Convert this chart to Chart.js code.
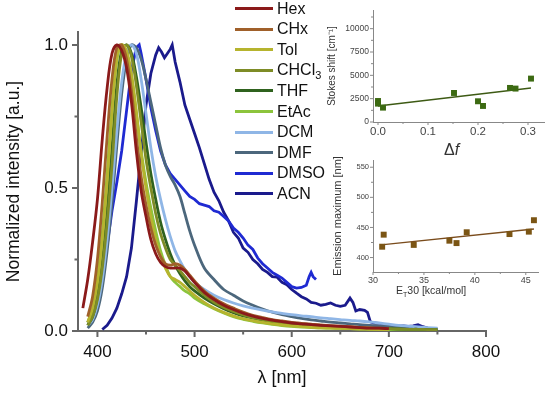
<!DOCTYPE html>
<html>
<head>
<meta charset="utf-8">
<script src="https://cdn.jsdelivr.net/npm/chart.js"></script>
<style>
  body { margin: 0; background: #fff; font-family: "Liberation Sans", Arial, sans-serif; }
  #wrap { position: relative; width: 550px; height: 396px; overflow: hidden; }
  canvas { position: absolute; }
  #main { left: 0; top: 0; }
  #inset1 { left: 300px; top: 0; }
  #inset2 { left: 300px; top: 150px; }
  .row { position: absolute; left: 235px; height: 20px; white-space: nowrap; font-size: 16px; color: #111; }
  .row i { position: absolute; left: 0; width: 38px; height: 3px; }
  .row span { position: absolute; left: 42px; line-height: 18px; }
  .lbl { position: absolute; color: #333; white-space: nowrap; }
</style>
</head>
<body>
<div id="wrap">
  <canvas id="main" width="550" height="396"></canvas>
  <canvas id="inset1" width="250" height="160"></canvas>
  <canvas id="inset2" width="250" height="160"></canvas>
  <div id="legend"></div>
  <div class="lbl" style="left:444px;top:141px;font-size:16px;">&Delta;<i>f</i></div>
  <div class="lbl" style="left:396px;top:284px;font-size:10.5px;">E<sub style="font-size:7px">T</sub>30 [kcal/mol]</div>
</div>
<script>
// wavelength grid (nm) shared by most spectra
const wavelengths = [385,390,395,400,405,410,415,420,425,430,435,440,445,450,455,460,465,470,475,480,485,490,495,500,
  510,520,530,540,550,560,570,580,590,600,610,620,630,640,650,660,670,680,690,700,710,720,730,740,750];

const hex = [0.08,0.18,0.31,0.46,0.67,0.85,0.97,1.0,0.98,0.92,0.80,0.63,0.49,0.40,0.32,0.27,0.24,0.225,0.22,0.22,0.22,0.21,0.19,0.17,
  0.135,0.11,0.09,0.075,0.062,0.052,0.044,0.038,0.033,0.028,0.025,0.022,0.02,0.018,0.016,0.014,0.012,0.01,0.01,0.008,null,null,null,null,null];
const chx = [null,0.05,0.12,0.25,0.45,0.68,0.88,0.99,1.0,0.95,0.84,0.68,0.54,0.44,0.36,0.30,0.26,0.235,0.23,0.235,0.23,0.215,0.195,0.175,
  0.14,0.115,0.095,0.08,0.066,0.055,0.047,0.04,0.035,0.03,0.027,0.024,0.021,0.019,0.017,0.015,0.013,0.011,0.01,0.009,null,null,null,null,null];
const tol = [null,0.03,0.08,0.17,0.32,0.52,0.76,0.95,1.0,0.98,0.90,0.77,0.62,0.50,0.40,0.32,0.26,0.22,0.19,0.18,0.17,0.155,0.14,0.125,
  0.10,0.08,0.065,0.053,0.043,0.036,0.03,0.025,0.021,0.018,0.015,0.013,0.011,0.01,0.009,0.008,0.007,0.006,0.005,0.005,null,null,null,null,null];
const chcl3 = [null,0.02,0.05,0.11,0.22,0.38,0.58,0.82,0.97,1.0,0.96,0.86,0.73,0.60,0.50,0.41,0.34,0.29,0.25,0.23,0.21,0.19,0.17,0.155,
  0.125,0.10,0.082,0.068,0.056,0.047,0.04,0.034,0.029,0.025,0.022,0.019,0.017,0.015,0.013,0.012,0.011,0.01,0.009,0.008,0.007,0.006,0.006,0.005,0.005];
const thf = [null,0.02,0.05,0.12,0.24,0.42,0.64,0.86,0.98,1.0,0.97,0.89,0.78,0.66,0.55,0.46,0.38,0.32,0.27,0.23,0.20,0.175,0.155,0.14,
  0.115,0.095,0.078,0.064,0.053,0.045,0.038,0.032,0.028,0.024,0.021,0.018,0.016,0.014,0.013,0.012,0.011,0.01,0.009,0.008,0.007,0.006,0.006,0.005,0.005];
const etac = [null,0.03,0.08,0.18,0.34,0.55,0.78,0.95,1.0,0.97,0.89,0.76,0.63,0.52,0.43,0.35,0.28,0.23,0.19,0.17,0.155,0.14,0.13,0.115,
  0.095,0.078,0.063,0.05,0.041,0.034,0.028,0.023,0.019,0.016,0.014,0.012,0.011,0.01,0.009,0.008,0.007,0.006,0.005,0.005,0.004,0.004,0.004,0.003,0.003];
const dcm = [null,0.02,0.04,0.09,0.18,0.32,0.50,0.70,0.87,0.97,1.0,0.97,0.88,0.76,0.64,0.54,0.46,0.39,0.33,0.28,0.245,0.215,0.19,0.17,
  0.145,0.125,0.11,0.098,0.088,0.08,0.073,0.067,0.062,0.057,0.053,0.05,0.046,0.043,0.04,0.037,0.035,0.032,0.028,0.024,0.02,0.017,0.014,0.012,0.01];
const dmf = [null,0.01,0.03,0.07,0.15,0.28,0.45,0.65,0.83,0.95,1.0,0.99,0.95,0.88,0.80,0.72,0.64,0.58,0.54,0.51,0.47,0.41,0.35,0.30,
  0.22,0.18,0.145,0.125,0.105,0.09,0.077,0.066,0.057,0.05,0.044,0.039,0.035,0.031,0.028,0.025,0.022,0.02,0.018,0.016,0.014,0.012,0.01,0.009,0.008];

// noisier spectra with their own wavelength points
const dmsoWl = [390,395,400,405,410,415,420,425,430,435,440,443,445,450,455,460,465,470,475,480,485,490,495,
  500,505,510,515,520,525,530,535,540,545,550,555,560,565,570,575,580,585,590,595,600,605,610,615,618,620,622,625];
const dmso = [0.03,0.06,0.12,0.2,0.3,0.42,0.52,0.63,0.77,0.91,0.99,1.0,0.97,0.88,0.78,0.70,0.63,0.58,0.55,0.53,0.51,0.49,0.47,
  0.46,0.445,0.44,0.435,0.42,0.415,0.40,0.385,0.36,0.345,0.325,0.30,0.285,0.255,0.235,0.22,0.205,0.195,0.185,0.17,0.155,0.15,0.152,0.16,0.19,0.205,0.19,0.18];
const acnWl = [405,410,415,420,425,430,435,440,445,450,455,460,463,466,469,472,475,477,480,485,490,495,500,505,510,515,520,525,
  530,535,540,545,550,555,560,565,570,575,580,585,590,595,600,605,610,615,620,625,630,635,640,645,650,655,660,663,666,
  670,675,678,681,685,690,695,700,705,710,715,720,725,730,735,740,745,750];
const acn = [0.005,0.02,0.045,0.08,0.13,0.19,0.29,0.45,0.62,0.79,0.90,0.965,0.99,0.975,0.955,0.97,0.985,1.0,0.94,0.87,0.79,0.74,0.69,0.64,0.585,0.53,0.485,0.455,
  0.415,0.385,0.345,0.325,0.29,0.275,0.25,0.235,0.215,0.205,0.19,0.188,0.17,0.162,0.145,0.132,0.12,0.112,0.10,0.097,0.09,0.093,0.098,0.09,0.086,0.09,0.115,0.10,0.07,
  0.075,0.072,0.065,0.032,0.028,0.027,0.022,0.02,0.018,0.017,0.018,0.016,0.018,0.022,0.015,0.01,0.008,0.005];

const xTicks = [400, 500, 600, 700, 800];
const xMinor = [450, 550, 650, 750];
const yTicks = [0, 0.5, 1.0];
const yMinor = [0.25, 0.75];

// insets
const deltaF = [0.0, 0.0, 0.01, 0.152, 0.2, 0.21, 0.264, 0.275, 0.306];
const stokesShift = [2250, 1970, 1540, 3110, 2220, 1720, 3650, 3580, 4650];
const fitDeltaF = [0.0, 0.306];
const fitStokes = [1720, 3650];
const dfTicks = [0, 0.1, 0.2, 0.3];
const dfMinor = [0.05, 0.15, 0.25];
const ssTicks = [0, 2500, 5000, 7500, 10000];
const ssMinor = [1250, 3750, 6250, 8750, 11250];

const et30 = [30.9, 31.05, 34.0, 37.5, 38.2, 39.2, 43.4, 45.3, 45.8];
const emissionMax = [418, 438, 421, 428, 424, 442, 439, 443, 462];
const fitEt30 = [30.8, 45.8];
const fitEmission = [421, 447.5];
const etTicks = [30, 35, 40, 45];
const etMinor = [32.5, 37.5, 42.5];
const emTicks = [400, 450, 500, 550];
const emMinor = [425, 475, 525];

const series = [
  { name: 'Hex', html: 'Hex', color: '#8B1A1A', x: wavelengths, y: hex },
  { name: 'CHx', html: 'CHx', color: '#A0602A', x: wavelengths, y: chx },
  { name: 'Tol', html: 'Tol', color: '#B6B42E', x: wavelengths, y: tol },
  { name: 'CHCl3', html: 'CHCl<sub style="font-size:11px">3</sub>', color: '#7E8C26', x: wavelengths, y: chcl3 },
  { name: 'THF', html: 'THF', color: '#2F621E', x: wavelengths, y: thf },
  { name: 'EtAc', html: 'EtAc', color: '#8CC43C', x: wavelengths, y: etac },
  { name: 'DCM', html: 'DCM', color: '#8FB6E6', x: wavelengths, y: dcm },
  { name: 'DMF', html: 'DMF', color: '#4C677C', x: wavelengths, y: dmf },
  { name: 'DMSO', html: 'DMSO', color: '#1F2AD2', x: dmsoWl, y: dmso, noisy: true },
  { name: 'ACN', html: 'ACN', color: '#1A1A8C', x: acnWl, y: acn, noisy: true }
];

Chart.defaults.font.family = '"Liberation Sans", Arial, sans-serif';

// legend
const legend = document.getElementById('legend');
series.forEach((s, i) => {
  const c = 8.5 + i * 20.6;
  const row = document.createElement('div');
  row.className = 'row';
  row.style.top = (c - 9) + 'px';
  row.innerHTML = '<i style="top:7.5px;background:' + s.color + '"></i><span>' + s.html + '</span>';
  legend.appendChild(row);
});

// draws outward major/minor tick marks
function tickMarks(spec) {
  return {
    id: 'tickMarks',
    afterDraw(chart) {
      const ctx = chart.ctx;
      for (const id in spec) {
        const s = spec[id], sc = chart.scales[id];
        ctx.save();
        ctx.strokeStyle = s.color;
        ctx.lineWidth = s.width;
        ctx.beginPath();
        [[s.major, s.majorLen], [s.minor, s.minorLen]].forEach(([vals, len]) => {
          vals.forEach(v => {
            const p = sc.getPixelForValue(v);
            if (sc.isHorizontal()) { ctx.moveTo(p, sc.top); ctx.lineTo(p, sc.top + len); }
            else { ctx.moveTo(sc.right, p); ctx.lineTo(sc.right - len, p); }
          });
        });
        ctx.stroke();
        ctx.restore();
      }
    }
  };
}

const noGrid = { display: false, drawTicks: false, tickLength: 0 };

new Chart(document.getElementById('main'), {
  type: 'line',
  data: {
    datasets: series.map(s => ({
      label: s.name,
      data: s.x.map((x, i) => ({ x: x, y: s.y[i] })).filter(p => p.y !== null),
      borderColor: s.color,
      borderWidth: 2.8,
      pointRadius: 0,
      tension: s.noisy ? 0 : 0.35,
      fill: false
    }))
  },
  options: {
    responsive: false,
    animation: false,
    layout: { padding: { top: 32, right: 64, left: 0, bottom: 0 } },
    plugins: { legend: { display: false }, tooltip: { enabled: false } },
    scales: {
      x: {
        type: 'linear', min: 380, max: 800,
        afterFit(s) { s.height = 65; },
        afterBuildTicks(s) { s.ticks = xTicks.map(v => ({ value: v })); },
        grid: noGrid,
        border: { color: '#666', width: 2 },
        ticks: { font: { size: 17 }, color: '#111', padding: 11, maxRotation: 0, autoSkip: false },
        title: { display: true, text: 'λ [nm]', font: { size: 18 }, color: '#111', padding: { top: 0, bottom: 7 } }
      },
      y: {
        type: 'linear', min: 0, max: 1.045,
        afterFit(s) { s.width = 78; },
        afterBuildTicks(s) { s.ticks = yTicks.map(v => ({ value: v })); },
        grid: noGrid,
        border: { color: '#666', width: 2 },
        ticks: { font: { size: 17 }, color: '#111', padding: 10, callback: v => v.toFixed(1) },
        title: { display: true, text: 'Normalized intensity [a.u.]', font: { size: 17.5 }, color: '#111', padding: { top: 4, bottom: 0 } }
      }
    }
  },
  plugins: [tickMarks({
    x: { major: xTicks, minor: xMinor, majorLen: 6, minorLen: 3.5, color: '#666', width: 2 },
    y: { major: yTicks, minor: yMinor, majorLen: 6, minorLen: 3.5, color: '#666', width: 2 }
  })]
});

function inset(canvasId, opts) {
  new Chart(document.getElementById(canvasId), {
    type: 'scatter',
    data: {
      datasets: [
        { data: opts.px.map((x, i) => ({ x: x, y: opts.py[i] })), pointStyle: 'rect', pointRadius: 4.2,
          backgroundColor: opts.pointColor, borderWidth: 0 },
        { data: opts.fx.map((x, i) => ({ x: x, y: opts.fy[i] })), showLine: true, pointRadius: 0,
          borderColor: opts.lineColor, borderWidth: 1.4 }
      ]
    },
    options: {
      responsive: false,
      animation: false,
      layout: { padding: { top: 10, right: opts.right, left: 0, bottom: 0 } },
      plugins: { legend: { display: false }, tooltip: { enabled: false } },
      scales: {
        x: {
          type: 'linear', min: opts.xMin, max: opts.xMax,
          afterFit(s) { s.height = 38; },
          afterBuildTicks(s) { s.ticks = opts.xTicks.map(v => ({ value: v })); },
          grid: noGrid,
          border: { color: '#888', width: 1 },
          ticks: { font: { size: opts.xFont }, color: '#444', padding: 3, maxRotation: 0, autoSkip: false, callback: opts.xFmt }
        },
        y: {
          type: 'linear', min: opts.yMin, max: opts.yMax,
          afterFit(s) { s.width = 73; },
          afterBuildTicks(s) { s.ticks = opts.yTicks.map(v => ({ value: v })); },
          grid: noGrid,
          border: { color: '#888', width: 1 },
          ticks: { font: { size: opts.yFont }, color: '#444', padding: 4, callback: v => String(v) },
          title: { display: true, text: opts.yTitle, font: { size: opts.titleFont }, color: '#333', padding: { top: opts.titlePad, bottom: 0 } }
        }
      }
    },
    plugins: [tickMarks({
      x: { major: opts.xTicks, minor: opts.xMinor, majorLen: 3, minorLen: 2, color: '#888', width: 1 },
      y: { major: opts.yTicks, minor: opts.yMinor, majorLen: 3, minorLen: 2, color: '#888', width: 1 }
    })]
  });
}

inset('inset1', {
  px: deltaF, py: stokesShift, fx: fitDeltaF, fy: fitStokes,
  pointColor: '#3C6A12', lineColor: '#3D5A14',
  xMin: -0.01, xMax: 0.332, yMin: 0, yMax: 12000,
  xTicks: dfTicks, xMinor: dfMinor, yTicks: ssTicks, yMinor: ssMinor,
  xFont: 11.5, yFont: 8.5, xFmt: v => v.toFixed(1),
  yTitle: 'Stokes shift [cm⁻¹]', titleFont: 10, titlePad: 26, right: 6
});

inset('inset2', {
  px: et30, py: emissionMax, fx: fitEt30, fy: fitEmission,
  pointColor: '#7B5514', lineColor: '#7A4C1C',
  xMin: 30, xMax: 46.2, yMin: 376, yMax: 562,
  xTicks: etTicks, xMinor: etMinor, yTicks: emTicks, yMinor: emMinor,
  xFont: 9, yFont: 7.5, xFmt: v => String(v),
  yTitle: 'Emission maximum [nm]', titleFont: 11, titlePad: 31, right: 12
});
</script>
</body>
</html>
